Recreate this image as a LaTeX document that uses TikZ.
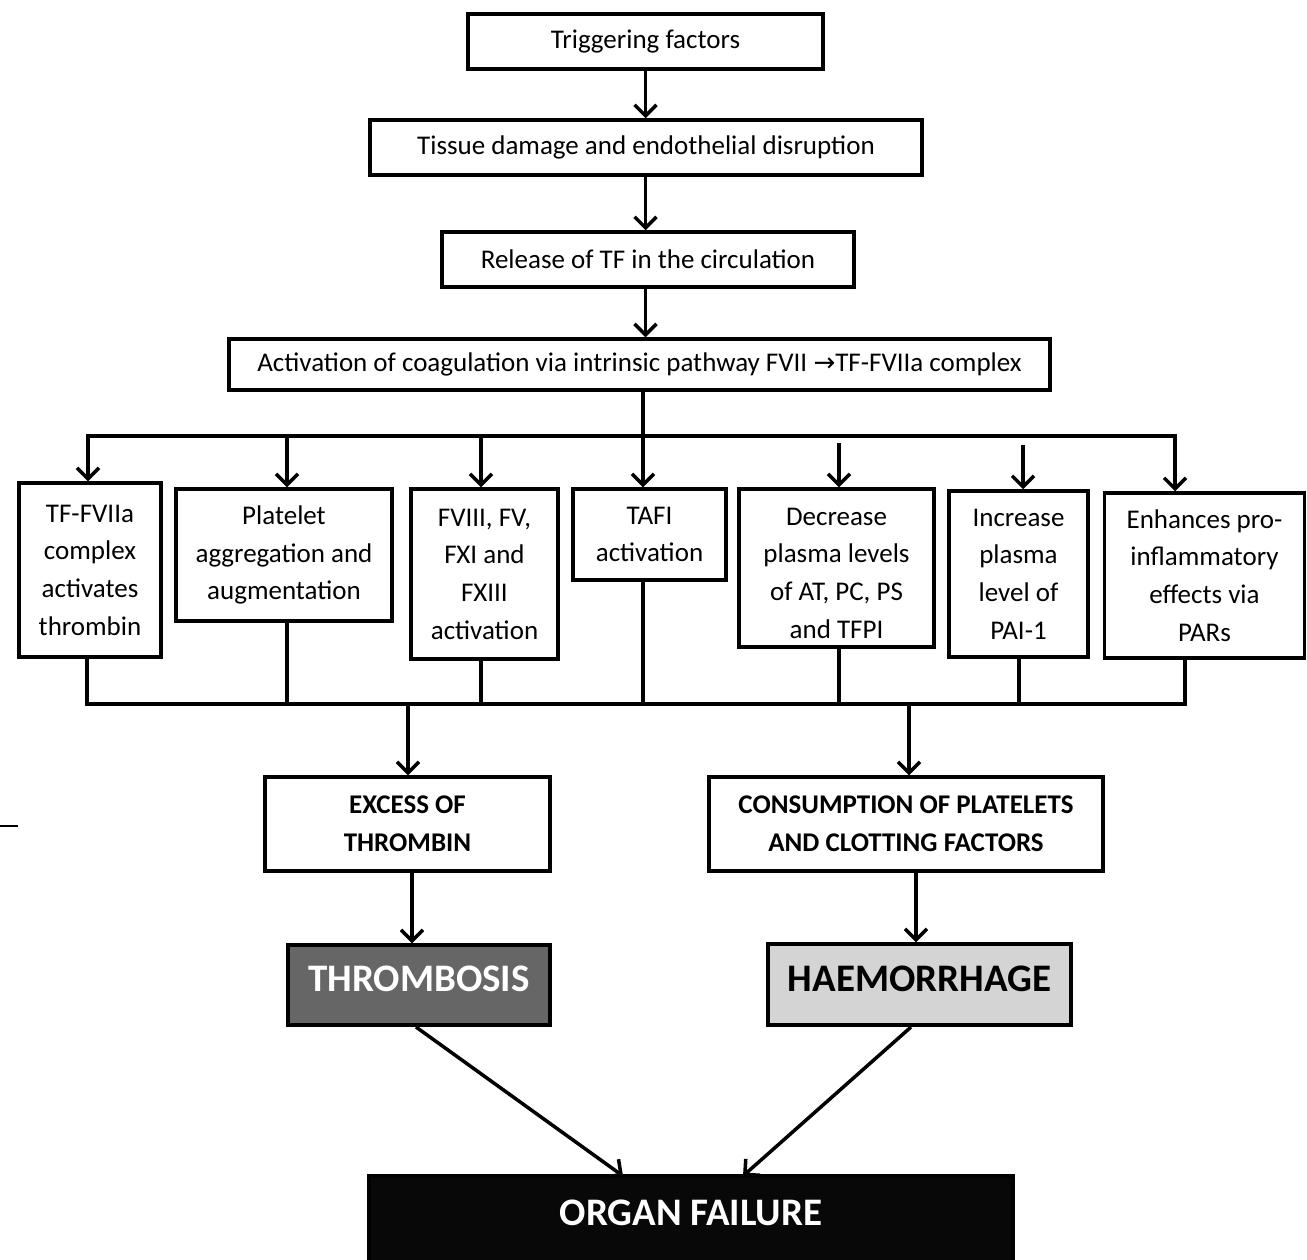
\documentclass[tikz,border=0pt]{standalone}
\usepackage{fontspec}
\setmainfont{Carlito}
\newfontfamily\symfont{DejaVu Sans}
\usetikzlibrary{arrows.meta}
\begin{document}
\begin{tikzpicture}[x=1pt,y=-1pt,
  box/.style={draw, line width=3.5pt, fill=white, align=center, inner sep=0pt,
    font=\fontsize{27}{37.7}\selectfont},
  plaintext/.style={align=center, inner sep=0pt, font=\fontsize{27}{37.7}\selectfont},
  titlebox/.style={box, font=\bfseries\fontsize{27}{38}\selectfont},
  bigbox/.style={box, font=\bfseries\fontsize{39}{40}\selectfont, text height=20pt, text depth=7pt},
  conn/.style={line width=3.5pt},
  arr/.style={line width=3.5pt, -{Straight Barb[length=11pt,width=22pt,line width=3.5pt]}},
]
\useasboundingbox (0,0) rectangle (1307,1259);
\clip (0,0) rectangle (1307,1259);

% top chain
\node[box, minimum width=355, minimum height=55] (trig) at (645.5,41.5) {Triggering factors};
\node[box, minimum width=552, minimum height=55] (tissue) at (646,147.5) {Tissue damage and endothelial disruption};
\node[box, minimum width=412, minimum height=55] (release) at (648,259.5) {Release of TF in the circulation};
\node[box, minimum width=821, minimum height=51] (activ) at (639.5,364.5) {Activation of coagulation via intrinsic pathway FVII {\symfont\fontsize{26}{30}\selectfont →}TF-FVIIa complex};

% middle row
\node[box, minimum width=142, minimum height=174] (A) at (90,570) {TF-FVIIa\\complex\\activates\\thrombin};
\node[box, minimum width=216, minimum height=132] (B) at (284,555) {Platelet\\aggregation and\\augmentation};
\node[box, minimum width=147, minimum height=170] (C) at (484.5,574) {FVIII, FV,\\FXI and\\FXIII\\activation};
\node[box, minimum width=153, minimum height=91] (D) at (649.5,534.5) {TAFI\\activation};
\node[box, minimum width=195, minimum height=158] (E) at (836.5,568) {};
\node[plaintext] (Et) at (836.5,573) {Decrease\\plasma levels\\of AT, PC, PS\\and TFPI};
\node[box, minimum width=139, minimum height=166] (F) at (1018.5,574) {Increase\\plasma\\level of\\PAI-1};
\node[box, minimum width=200, minimum height=165] (G) at (1204.5,575.5) {Enhances pro-\\inflammatory\\effects via\\PARs};

% lower part
\node[titlebox, minimum width=285, minimum height=94] (excess) at (407.5,824) {EXCESS OF\\THROMBIN};
\node[titlebox, minimum width=394, minimum height=94] (consum) at (906,824) {CONSUMPTION OF PLATELETS\\AND CLOTTING FACTORS};
\node[bigbox, fill={rgb,255:red,102;green,102;blue,102}, text=white, minimum width=262, minimum height=80] (thromb) at (419,985) {THROMBOSIS};
\node[bigbox, fill={rgb,255:red,212;green,212;blue,212}, minimum width=303, minimum height=81] (haem) at (919.5,984.5) {HAEMORRHAGE};
\node[bigbox, fill={rgb,255:red,8;green,8;blue,8}, text=white, minimum width=644, minimum height=86] (organ) at (691,1219) {ORGAN FAILURE};

% top arrows
\draw[arr] (trig.south) -- (trig.south |- tissue.north);
\draw[arr] (trig.south |- tissue.south) -- (trig.south |- release.north);
\draw[arr] (trig.south |- release.south) -- (trig.south |- activ.north);

% distribution bus
\coordinate (busL) at (88,436);
\coordinate (busR) at (1175,436);
\coordinate (tD) at (643,436);
\draw[conn] (tD |- activ.south) -- (tD);
\draw[conn, line cap=rect] (busL) -- (busR);
\draw[arr] (tD) -- (tD |- D.north);
\draw[arr] (busL) -- (busL |- A.north);
\coordinate (tB) at (287,436);
\coordinate (tC) at (481,436);
\coordinate (tE) at (839,443);
\coordinate (tF) at (1023,445);
\draw[arr] (tB) -- (tB |- B.north);
\draw[arr] (tC) -- (tC |- C.north);
\draw[arr] (tE) -- (tE |- E.north);
\draw[arr] (tF) -- (tF |- F.north);
\draw[arr] (busR) -- (busR |- G.north);

% collecting bus
\coordinate (cA) at (87,704);
\coordinate (cB) at (287,704);
\coordinate (cC) at (481,704);
\coordinate (cD) at (643,704);
\coordinate (cE) at (839,704);
\coordinate (cF) at (1019,704);
\coordinate (cG) at (1185,704);
\draw[conn, line cap=rect] (cA |- A.south) -- (cA) -- (cG) -- (cG |- G.south);
\draw[conn] (cB |- B.south) -- (cB);
\draw[conn] (cC |- C.south) -- (cC);
\draw[conn] (cD |- D.south) -- (cD);
\draw[conn] (cE |- E.south) -- (cE);
\draw[conn] (cF |- F.south) -- (cF);
\coordinate (oX) at (408,704);
\coordinate (oC) at (909,704);
\draw[arr] (oX) -- (oX |- excess.north);
\draw[arr] (oC) -- (oC |- consum.north);

% to outcomes
\coordinate (xT) at (412,0);
\coordinate (xH) at (916,0);
\draw[arr] (xT |- excess.south) -- (xT |- thromb.north);
\draw[arr] (xH |- consum.south) -- (xH |- haem.north);

% to organ failure
\coordinate (sT) at (416,1027);
\coordinate (sH) at (911,1027);
\coordinate (eT) at (623,1176);
\coordinate (eH) at (743,1176);
\draw[arr] (sT) -- (eT);
\draw[arr] (sH) -- (eH);

% stray mark at left
\coordinate (m1) at (0,826);
\coordinate (m2) at (18,826);
\draw[line width=1.5pt] (m1) -- (m2);
\end{tikzpicture}
\end{document}
